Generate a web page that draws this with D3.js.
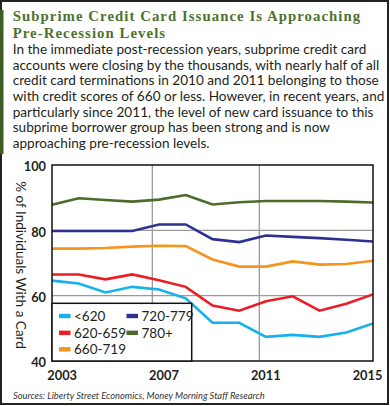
<!DOCTYPE html>
<html>
<head>
<meta charset="utf-8">
<script src="https://cdn.jsdelivr.net/npm/d3@7"></script>
<style>
  html, body { margin: 0; padding: 0; background: #fff; }
  svg { display: block; }
</style>
</head>
<body>
<svg id="chart" width="390" height="406"></svg>
<script>
// ---------- data ----------
const years = [2003, 2004, 2005, 2006, 2007, 2008, 2009, 2010, 2011, 2012, 2013, 2014, 2015];
const seriesNames = ["<620", "620-659", "660-719", "720-779", "780+"];
const below620 = [64.6, 63.7, 61.0, 62.7, 61.9, 59.2, 51.7, 51.7, 47.4, 48.0, 47.4, 48.7, 51.5];
const s620_659 = [66.5, 66.5, 65.0, 66.5, 64.7, 62.7, 57.0, 55.4, 58.3, 59.8, 55.4, 57.5, 60.4];
const s660_719 = [74.4, 74.4, 74.6, 75.0, 75.3, 75.2, 71.1, 68.9, 68.9, 70.5, 69.5, 69.7, 70.7];
const s720_779 = [79.8, 79.8, 79.8, 79.8, 81.8, 81.8, 77.3, 76.4, 78.4, 78.0, 77.6, 77.1, 76.6];
const s780plus = [87.8, 89.8, 89.3, 88.8, 89.4, 90.8, 87.9, 88.6, 89.0, 89.0, 89.0, 88.8, 88.5];
const seriesColors = ["#17b1ea", "#ed1c24", "#f7941d", "#2e3192", "#4b6b2a"];
const xTickLabels = ["2003", "2007", "2011", "2015"];
const xGridValues = [2006.75, 2010.75];
const yTicks = [40, 60, 80, 100];
const yGridValues = [60, 80];

const titleLines = ["Subprime Credit Card Issuance Is Approaching", "Pre-Recession Levels"];
const bodyLines = [
  "In the immediate post-recession years, subprime credit card",
  "accounts were closing by the thousands, with nearly half of all",
  "credit card terminations in 2010 and 2011 belonging to those",
  "with credit scores of 660 or less. However, in recent years, and",
  "particularly since 2011, the level of new card issuance to this",
  "subprime borrower group has been strong and is now",
  "approaching pre-recession levels."
];
const yAxisTitle = "% of Individuals With a Card";
const sourceText = "Sources: Liberty Street Economics, Money Morning Staff Research";

const seriesValues = [below620, s620_659, s660_719, s720_779, s780plus];
const series = seriesNames.map((n, i) => ({ name: n, color: seriesColors[i], values: seriesValues[i] }));

// ---------- layout ----------
const svg = d3.select("#chart");
const W = 390, H = 406;
const plot = { left: 52, top: 165, right: 373, bottom: 361 };
const textColor = "#231f20";
const sansFont = "Lato, 'Open Sans', sans-serif";

function fit(sel, target) {
  const base = parseFloat(sel.attr("font-size"));
  const len = sel.node().getComputedTextLength();
  const fs = base * target / len;
  sel.attr("font-size", fs);
  return fs;
}

// outer frame
svg.append("rect").attr("x", 1).attr("y", 1).attr("width", W - 3).attr("height", H - 3)
  .attr("fill", "#fff").attr("stroke", "#222").attr("stroke-width", 2);
svg.append("rect").attr("x", 0).attr("y", 10).attr("width", 3.5).attr("height", 144)
  .attr("fill", "#3f5e26");

// title
const titleFont = "'Liberation Serif', 'Times New Roman', serif";
const titleFs = 14.8;
const tl1 = svg.append("text").attr("x", 12.7).attr("y", 21.3)
  .attr("font-family", titleFont).attr("font-weight", "bold").attr("font-size", titleFs)
  .attr("fill", "#4e7230").text(titleLines[0]);
const len1 = tl1.node().getComputedTextLength();
const ls = (347.5 - len1) / (titleLines[0].length - 1);
tl1.attr("letter-spacing", ls);
svg.append("text").attr("x", 12.7).attr("y", 37.8)
  .attr("font-family", titleFont).attr("font-weight", "bold").attr("font-size", titleFs)
  .attr("letter-spacing", ls).attr("fill", "#4e7230").text(titleLines[1]);

// body text
const b0 = svg.append("text").attr("x", 12.7).attr("y", 53.8)
  .attr("font-family", sansFont).attr("font-size", 14).attr("fill", textColor)
  .text(bodyLines[0]);
const bodyFs = fit(b0, 354);
bodyLines.slice(1).forEach((l, i) => {
  svg.append("text").attr("x", 12.7).attr("y", 53.8 + (i + 1) * 15.7)
    .attr("font-family", sansFont).attr("font-size", bodyFs).attr("fill", textColor)
    .text(l);
});

// scales
const x = d3.scaleLinear().domain([years[0], years[years.length - 1]]).range([plot.left, plot.right]);
const y = d3.scaleLinear().domain([40, 100]).range([plot.bottom, plot.top]);
const xLab = d3.scalePoint().domain(xTickLabels).range([61.7, 367]);

// gridlines
const g = svg.append("g");
g.selectAll(".hg").data(yGridValues).join("line")
  .attr("x1", plot.left).attr("x2", plot.right)
  .attr("y1", d => y(d)).attr("y2", d => y(d))
  .attr("stroke", "#9a9a9a").attr("stroke-width", 1.3);
g.selectAll(".vg").data(xGridValues).join("line")
  .attr("x1", d => x(d)).attr("x2", d => x(d))
  .attr("y1", plot.top).attr("y2", plot.bottom)
  .attr("stroke", "#9a9a9a").attr("stroke-width", 1.3);

// lines
const line = d3.line().x((d, i) => x(years[i])).y(d => y(d));
svg.append("g").selectAll("path").data(series).join("path")
  .attr("d", d => line(d.values))
  .attr("fill", "none").attr("stroke", d => d.color)
  .attr("stroke-width", 2.6).attr("stroke-linejoin", "miter");

// plot border
svg.append("rect").attr("x", plot.left).attr("y", plot.top)
  .attr("width", plot.right - plot.left).attr("height", plot.bottom - plot.top)
  .attr("fill", "none").attr("stroke", "#111").attr("stroke-width", 1.5);

// y ticks
const yAxis = d3.axisLeft(y).tickValues(yTicks).tickSize(0).tickPadding(6);
const yG = svg.append("g").attr("transform", `translate(${plot.left},0)`).call(yAxis);
yG.select(".domain").remove();
yG.selectAll("text").attr("font-family", sansFont).attr("font-weight", "bold")
  .attr("font-size", 12.8).attr("fill", textColor).attr("dy", "0.45em");

// x labels
const xAxis = d3.axisBottom(xLab).tickSize(0).tickPadding(0);
const xG = svg.append("g").attr("transform", `translate(0,${plot.bottom})`).call(xAxis);
xG.select(".domain").remove();
xG.selectAll("text").attr("font-family", sansFont).attr("font-weight", "bold")
  .attr("font-size", 12.8).attr("fill", textColor).attr("y", 19).attr("dy", 0);

// y title
const yt = svg.append("text")
  .attr("transform", `translate(15.5, ${(plot.top + plot.bottom) / 2 + 2}) rotate(90)`)
  .attr("text-anchor", "middle")
  .attr("font-family", sansFont).attr("font-size", 13).attr("fill", textColor)
  .text(yAxisTitle);
fit(yt, 168);

// legend
const lg = svg.append("g");
lg.append("rect").attr("x", plot.left).attr("y", 303.3)
  .attr("width", 191.7 - plot.left).attr("height", plot.bottom - 303.3)
  .attr("fill", "#fff").attr("stroke", "#111").attr("stroke-width", 1.5);
const colX = [59, 126.5];
const rowY = [316, 332.8, 349.3];
series.forEach((s, i) => {
  const col = Math.floor(i / 3), row = i % 3;
  lg.append("rect").attr("x", colX[col]).attr("y", rowY[row] - 2.2)
    .attr("width", 11.5).attr("height", 4.4).attr("fill", s.color);
  lg.append("text").attr("x", colX[col] + 15).attr("y", rowY[row]).attr("dy", "0.36em")
    .attr("font-family", sansFont).attr("font-size", 13.5).attr("fill", textColor)
    .text(s.name);
});

// source
const src = svg.append("text").attr("x", 13).attr("y", 399)
  .attr("font-family", sansFont).attr("font-style", "italic").attr("font-size", 9.5)
  .attr("fill", "#333").text(sourceText);
fit(src, 252);
</script>
</body>
</html>
